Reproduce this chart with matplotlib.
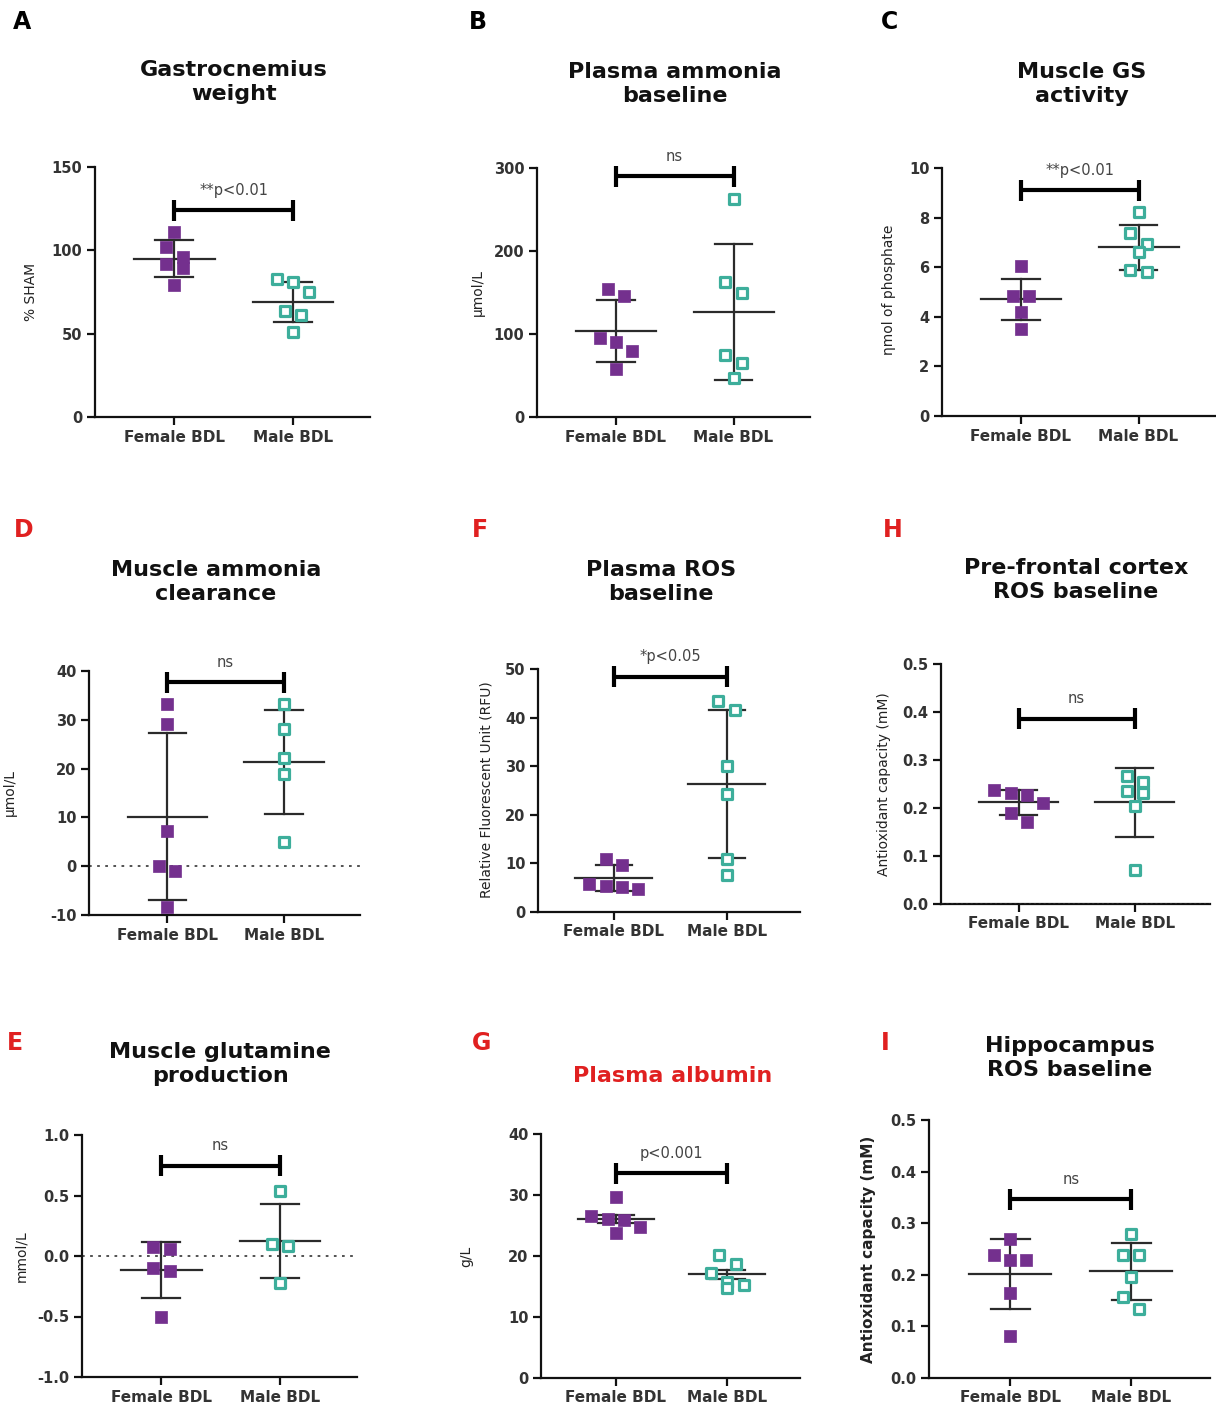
import matplotlib
matplotlib.use("Agg")
import matplotlib.pyplot as plt
import numpy as np

W, H = 1216, 1415
fig = plt.figure(figsize=(W / 100, H / 100), dpi=100)
plt.rcParams['font.family'] = ['DejaVu Sans']

PURPLE = "#74308E"
TEAL = "#3DAE9B"
DARK = "#2b2b2b"

groups = ["Female BDL", "Male BDL"]

# ---------------- data ----------------
A_female = [111, 102, 96, 91.6, 89.6, 79]
A_male = [82.6, 81.2, 75.2, 63.6, 61.2, 51.2]
A_mean = [95.0, 69.0]
A_err = [11.0, 12.2]

B_female = [154.2, 145.8, 95.4, 90.6, 79.3, 58.4]
B_male = [263, 162.7, 149, 74.5, 64.5, 46.4]
B_mean = [103.5, 126.3]
B_err = [37.5, 81.7]

C_female = [6.03, 4.82, 4.82, 4.21, 3.51]
C_male = [8.22, 7.37, 6.94, 6.6, 5.9, 5.8]
C_mean = [4.70, 6.80]
C_err = [0.835, 0.915]

D_female = [33.3, 29.1, 7.2, 0.06, -0.9, -8.3]
D_male = [33.3, 28.1, 22.1, 18.8, 5.0]
D_mean = [10.15, 21.4]
D_err = [17.05, 10.7]

E_female = [0.077, 0.055, -0.102, -0.124, -0.50]
E_male = [0.538, 0.097, 0.083, -0.22]
E_mean = [-0.118, 0.125]
E_err = [0.232, 0.305]

F_female = [11.0, 9.76, 5.85, 5.36, 5.15, 4.68]
F_male = [43.4, 41.6, 30.0, 24.25, 11.0, 7.56]
F_mean = [7.0, 26.35]
F_err = [2.7, 15.15]

G_female = [29.7, 26.6, 26.1, 25.9, 24.7, 23.7]
G_male = [20.2, 18.7, 17.2, 15.7, 15.2, 14.8]
G_mean = [26.1, 17.0]
G_err = [0.7, 0.7]

H_female = [0.238, 0.231, 0.227, 0.211, 0.190, 0.170]
H_male = [0.266, 0.255, 0.236, 0.232, 0.205, 0.071]
H_mean = [0.2115, 0.2115]
H_err = [0.0255, 0.0715]

I_female = [0.2686, 0.238, 0.228, 0.228, 0.164, 0.081]
I_male = [0.279, 0.239, 0.238, 0.196, 0.157, 0.133]
I_mean = [0.2015, 0.2065]
I_err = [0.0685, 0.0545]

sig_labels = {"A": "**p<0.01", "B": "ns", "C": "**p<0.01", "D": "ns",
              "E": "ns", "F": "*p<0.05", "G": "p<0.001", "H": "ns", "I": "ns"}
sig_heights = {"A": 124, "B": 290, "C": 9.1, "D": 37.7, "E": 0.745,
               "F": 48.4, "G": 33.6, "H": 0.386, "I": 0.346}

titles = {"A": "Gastrocnemius\nweight", "B": "Plasma ammonia\nbaseline",
          "C": "Muscle GS\nactivity", "D": "Muscle ammonia\nclearance",
          "E": "Muscle glutamine\nproduction", "F": "Plasma ROS\nbaseline",
          "G": "Plasma albumin", "H": "Pre-frontal cortex\nROS baseline",
          "I": "Hippocampus\nROS baseline"}
ylabels = {"A": "% SHAM", "B": "µmol/L", "C": "ηmol of phosphate",
           "D": "µmol/L", "E": "mmol/L",
           "F": "Relative Fluorescent Unit (RFU)", "G": "g/L",
           "H": "Antioxidant capacity (mM)", "I": "Antioxidant capacity (mM)"}
yticks = {"A": [0, 50, 100, 150], "B": [0, 100, 200, 300],
          "C": [0, 2, 4, 6, 8, 10], "D": [-10, 0, 10, 20, 30, 40],
          "E": [-1.0, -0.5, 0.0, 0.5, 1.0], "F": [0, 10, 20, 30, 40, 50],
          "G": [0, 10, 20, 30, 40], "H": [0.0, 0.1, 0.2, 0.3, 0.4, 0.5],
          "I": [0.0, 0.1, 0.2, 0.3, 0.4, 0.5]}
tick_fmt = {"A": "{:.0f}", "B": "{:.0f}", "C": "{:.0f}", "D": "{:.0f}",
            "E": "{:.1f}", "F": "{:.0f}", "G": "{:.0f}", "H": "{:.1f}",
            "I": "{:.1f}"}

data = {
    "A": (A_female, A_male, A_mean, A_err),
    "B": (B_female, B_male, B_mean, B_err),
    "C": (C_female, C_male, C_mean, C_err),
    "D": (D_female, D_male, D_mean, D_err),
    "E": (E_female, E_male, E_mean, E_err),
    "F": (F_female, F_male, F_mean, F_err),
    "G": (G_female, G_male, G_mean, G_err),
    "H": (H_female, H_male, H_mean, H_err),
    "I": (I_female, I_male, I_mean, I_err),
}

# ---------------- layout (pixels: left, right, top, bottom) ----------------
boxes = {
    "A": (95, 370, 167, 417),
    "B": (537, 810, 168, 417),
    "C": (942, 1215, 168, 416),
    "D": (89, 360, 671, 915),
    "F": (538, 800, 669, 912),
    "H": (941, 1210, 664, 904),
    "E": (82, 357, 1135, 1377),
    "G": (541, 800, 1134, 1378),
    "I": (929, 1210, 1120, 1378),
}
letters = {"A": (22, 22, "black"), "B": (478, 22, "black"), "C": (890, 22, "black"),
           "D": (24, 530, "#e02020"), "F": (480, 530, "#e02020"), "H": (893, 530, "#e02020"),
           "E": (15, 1043, "#e02020"), "G": (482, 1043, "#e02020"), "I": (885, 1043, "#e02020")}
title_pos = {"A": (234, 82), "B": (675, 84), "C": (1082, 84), "D": (216, 582),
             "F": (661, 582), "H": (1076, 580), "E": (220, 1064), "G": (673, 1076),
             "I": (1070, 1058)}
ylabel_pos = {"A": (31, 292), "B": (478, 292), "C": (889, 290), "D": (10, 792),
              "F": (487, 790), "H": (884, 784), "E": (21, 1256), "G": (466, 1256),
              "I": (868, 1249)}

XLIM = (-0.67, 1.65)
MARK_PX = 12.5


def swarm_offsets(vals, px_per_y, px_per_x, d_px=MARK_PX):
    """Spread points of similar value symmetrically around the centre."""
    order = np.argsort(vals)[::-1]
    offs = np.zeros(len(vals))
    rows = []
    for i in order:
        y = vals[i] * px_per_y
        if rows and abs(rows[-1][0] - y) < d_px * 1.1:
            rows[-1][1].append(i)
        else:
            rows.append([y, [i]])
    for _, idx in rows:
        n = len(idx)
        for k, i in enumerate(idx):
            offs[i] = (k - (n - 1) / 2) * d_px * 1.3 / px_per_x
    return offs


for key, (l, r, t, b) in boxes.items():
    ax = fig.add_axes([l / W, 1 - b / H, (r - l) / W, (b - t) / H])
    fem, mal, mean, err = data[key]
    ticks = yticks[key]
    ax.set_ylim(ticks[0], ticks[-1])
    ax.set_xlim(*XLIM)
    px_per_y = (b - t) / (ticks[-1] - ticks[0])
    px_per_x = (r - l) / (XLIM[1] - XLIM[0])

    for spine in ["top", "right"]:
        ax.spines[spine].set_visible(False)
    for spine in ["left", "bottom"]:
        ax.spines[spine].set_linewidth(1.6)
        ax.spines[spine].set_color("#111111")

    if ticks[0] < 0:
        ax.axhline(0, color="#444444", lw=1.3, ls=(0, (1.5, 3)), zorder=1)
    if key == "H":
        ax.axhline(0, color="#777777", lw=1.0, ls=(0, (1.5, 2)), zorder=3)

    # error bars (mean +/- error) and mean line
    for g in range(2):
        ax.plot([g, g], [mean[g] - err[g], mean[g] + err[g]], color=DARK, lw=1.6, zorder=2)
        for yy in (mean[g] - err[g], mean[g] + err[g]):
            ax.plot([g - 0.16, g + 0.16], [yy, yy], color=DARK, lw=1.6, zorder=2)
        ax.plot([g - 0.34, g + 0.34], [mean[g], mean[g]], color=DARK, lw=1.6, zorder=2)

    fo = swarm_offsets(np.array(fem, float), px_per_y, px_per_x)
    mo = swarm_offsets(np.array(mal, float), px_per_y, px_per_x)
    ax.scatter(0 + fo, fem, marker="s", s=78, color=PURPLE, edgecolor=PURPLE,
               linewidth=0.5, zorder=4)
    ax.scatter(1 + mo, mal, marker="s", s=60, facecolor="white", edgecolor=TEAL,
               linewidth=2.3, zorder=4)

    # significance bracket
    hy = sig_heights[key]
    tick_h = 10.5 / px_per_y
    ax.plot([0, 1], [hy, hy], color="black", lw=3, solid_capstyle="butt", zorder=5,
            clip_on=False)
    for xx in (0, 1):
        ax.plot([xx, xx], [hy - tick_h, hy + tick_h], color="black", lw=3,
                solid_capstyle="butt", zorder=5, clip_on=False)
    ax.annotate(sig_labels[key], (0.5, hy), xytext=(0, 9), textcoords="offset points",
                ha="center", va="bottom", fontsize=10.5, color="#444444")

    ax.set_xticks([0, 1])
    ax.set_xticklabels(groups, fontsize=11, fontweight="bold", color="#333333")
    ax.set_yticks(ticks)
    ax.set_yticklabels([tick_fmt[key].format(v) for v in ticks], fontsize=10.5,
                       fontweight="bold", color="#333333")
    ax.tick_params(axis="both", direction="out", length=6, width=1.6, color="#111111",
                   pad=3)

    # panel letter, title, y label
    lx, ly, lc = letters[key]
    fig.text(lx / W, 1 - ly / H, key, fontsize=17, fontweight="bold", color=lc,
             ha="center", va="center")
    tx, ty = title_pos[key]
    fig.text(tx / W, 1 - ty / H, titles[key], fontsize=16, fontweight="bold",
             color="#e02020" if key == "G" else "#111111",
             ha="center", va="center", linespacing=1.3)
    yx, yy = ylabel_pos[key]
    fig.text(yx / W, 1 - yy / H, ylabels[key], rotation=90, ha="center", va="center",
             fontsize=11 if key == "I" else 10,
             fontweight="bold" if key == "I" else "normal", color="#222222")

fig.savefig("out.png", dpi=100, facecolor="white")
